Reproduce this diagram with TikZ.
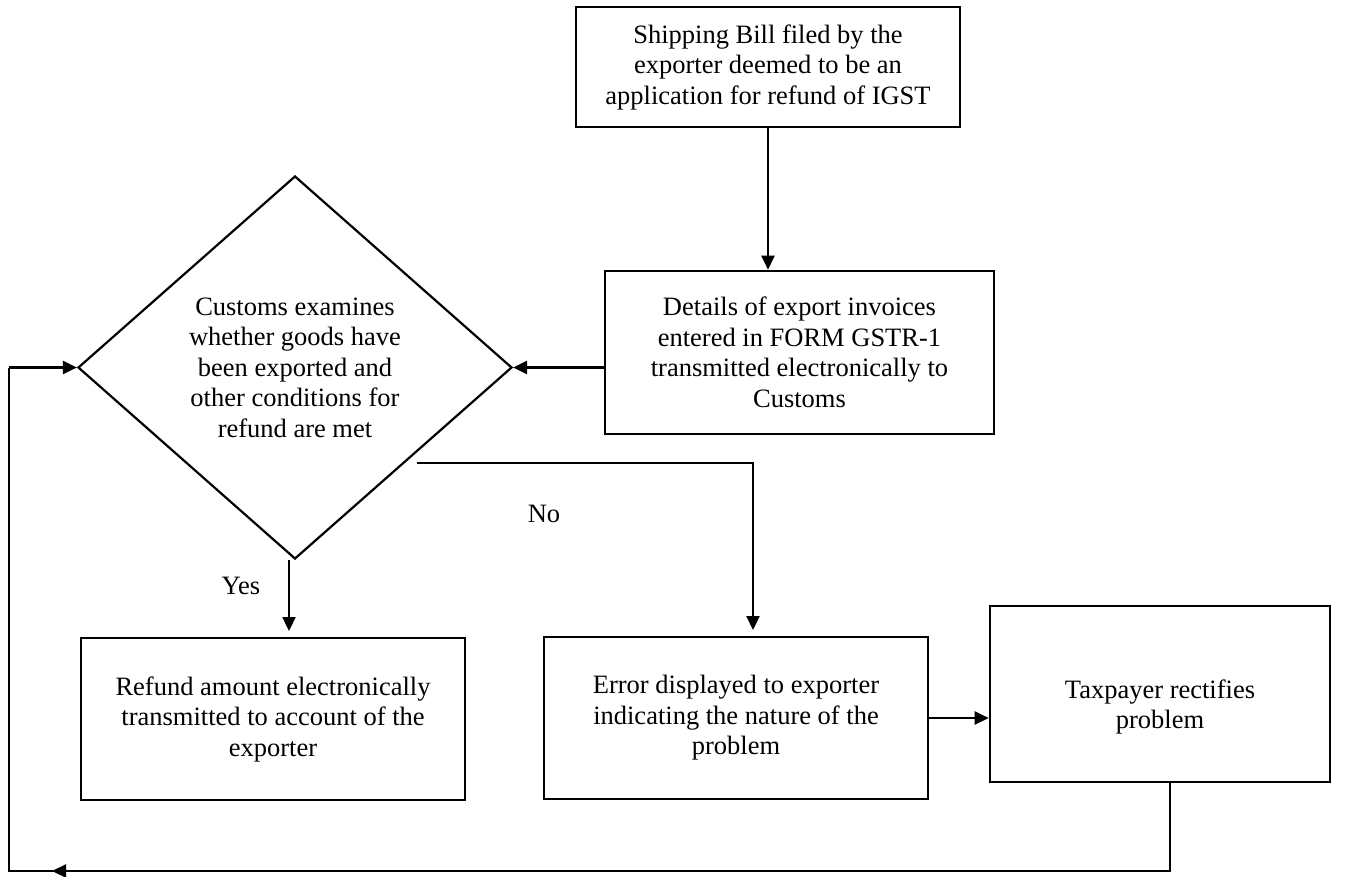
\documentclass[tikz,border=0pt]{standalone}
\usepackage{fontspec}
\setmainfont{Liberation Serif}
\usetikzlibrary{shapes.geometric,arrows.meta}
\begin{document}
\begin{tikzpicture}[x=1pt,y=-1pt,
  box/.style={draw, line width=2.6pt, align=center, inner sep=0pt,
    font=\fontsize{26.5}{30.5}\selectfont},
  txt/.style={align=center, inner sep=0pt, font=\fontsize{26.5}{30.5}\selectfont},
  link/.style={line width=2.2pt, -{Triangle[length=14pt,width=13pt]}},
  plain/.style={line width=2.2pt}]
\useasboundingbox (0,0) rectangle (1352,876);

% process boxes
\node[box, minimum width=384pt, minimum height=120pt] (ship) at (768,67)
  {Shipping Bill filed by the\\exporter deemed to be an\\application for refund of IGST};
\node[box, minimum width=389pt, minimum height=163pt] (gstr) at (799.5,352.5)
  {Details of export invoices\\entered in FORM GSTR-1\\transmitted electronically to\\Customs};
\node[box, minimum width=384pt, minimum height=162pt] (refund) at (273,719)
  {Refund amount electronically\\transmitted to account of the\\exporter};
\node[box, minimum width=384pt, minimum height=162pt] (error) at (736,718)
  {Error displayed to exporter\\indicating the nature of the\\problem};
\node[box, minimum width=340pt, minimum height=176pt] (tax) at (1160,694) {};
\node[txt] (taxtext) at ([yshift=-13pt]tax.center) {Taxpayer rectifies\\problem};

% decision
\node[draw, shape=diamond, line width=2.2pt, minimum width=434pt, minimum height=383pt,
  inner sep=0pt] (dia) at (295,367.5) {};
\node[txt] (diatext) at (dia.center)
  {Customs examines\\whether goods have\\been exported and\\other conditions for\\refund are met};

% branch labels
\node[txt] (yes) at (241,586) {Yes};
\node[txt] (no) at (544,514) {No};

% connectors
\draw[link] (ship.south) -- (ship.south |- gstr.north);
\draw[link] (gstr.west |- dia.east) -- (dia.east);
\coordinate (yestip) at (289,631);
\draw[link] ([xshift=-6pt]dia.south) -- (yestip);
\coordinate (nostart) at (417,463);
\coordinate (notip) at (753,630);
\draw[link] (nostart) -| (notip);
\draw[link] (error.east) -- (error.east -| tax.west);

% return loop back to the decision
\coordinate (fb1) at (1170,871);
\coordinate (fb2) at (9,871);
\coordinate (fb3) at (9,367.5);
\coordinate (fbtip) at (52,871);
\draw[plain, line join=miter] (tax.south -| fb1) -- (fb1) -- (fb2) -- (fb3);
\draw[link] (fb1) -- (fbtip);
\draw[link] (fb3) -- (dia.west);
\end{tikzpicture}
\end{document}
